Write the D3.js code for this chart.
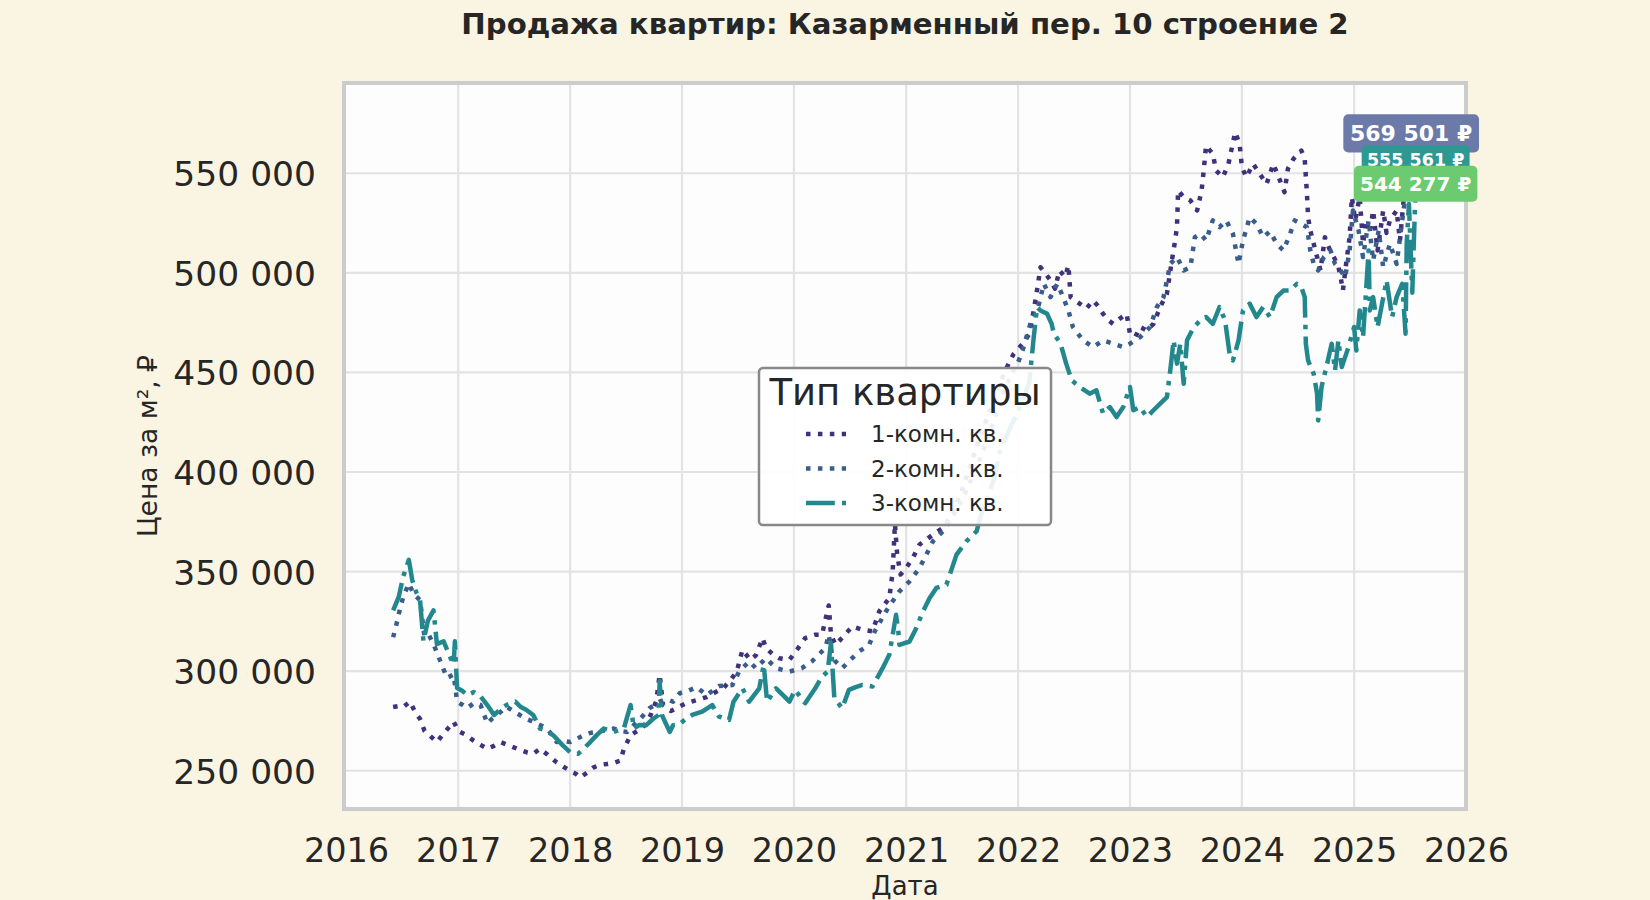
<!DOCTYPE html>
<html>
<head>
<meta charset="utf-8">
<script src="https://cdn.jsdelivr.net/npm/d3@7"></script>
<style>
  html, body { margin: 0; padding: 0; background: #faf4e2; }
  svg { display: block; font-family: "DejaVu Sans", sans-serif; }
</style>
</head>
<body>
<svg id="chart" width="1650" height="900"></svg>
<script>
// ---- data (decimal year, price per m²) ----
const seriesNames = ['1-комн. кв.', '2-комн. кв.', '3-комн. кв.'];
const lineColors = ['#41307a', '#3a5e8c', '#23888e'];
const boxColors = ['#6b7aa9', '#2e9893', '#6ccb70'];
const yearTicks = [2016, 2017, 2018, 2019, 2020, 2021, 2022, 2023, 2024, 2025, 2026];
const priceTicks = [250000, 300000, 350000, 400000, 450000, 500000, 550000];

const oneRoom = [
  [2016.42, 282000], [2016.47, 282500], [2016.51, 282000], [2016.57, 284700], [2016.62, 279000],
  [2016.66, 276000], [2016.7, 270000], [2016.75, 267500], [2016.81, 264400], [2016.86, 268000],
  [2016.92, 272000], [2016.96, 274600], [2017.0, 270000], [2017.07, 268000], [2017.14, 265000],
  [2017.2, 263000], [2017.26, 261000], [2017.32, 262500], [2017.38, 264400], [2017.44, 263000],
  [2017.49, 261900], [2017.55, 260500], [2017.61, 259300], [2017.67, 258500], [2017.73, 261000],
  [2017.8, 258000], [2017.88, 254200], [2017.94, 252000], [2018.0, 250000], [2018.05, 248500],
  [2018.09, 246600], [2018.15, 249000], [2018.21, 251700], [2018.27, 253000], [2018.33, 253400],
  [2018.39, 254000], [2018.45, 255100], [2018.48, 261000], [2018.54, 267800], [2018.6, 270000],
  [2018.66, 272500], [2018.72, 278000], [2018.77, 285000], [2018.8, 298300], [2018.83, 283000],
  [2018.9, 280000], [2018.97, 282000], [2019.04, 284000], [2019.13, 285500], [2019.22, 287000],
  [2019.3, 289500], [2019.37, 291500], [2019.44, 296000], [2019.49, 300000], [2019.54, 310700],
  [2019.61, 305700], [2019.66, 308000], [2019.72, 316600], [2019.75, 311600], [2019.81, 308500],
  [2019.87, 306500], [2019.96, 305700], [2020.03, 311000], [2020.1, 316600], [2020.19, 318300],
  [2020.25, 318300], [2020.31, 333000], [2020.33, 318300], [2020.37, 313200], [2020.45, 318000],
  [2020.52, 322500], [2020.61, 320800], [2020.7, 320000], [2020.76, 330000], [2020.85, 336700],
  [2020.88, 350000], [2020.9, 374000], [2020.92, 358500], [2020.95, 348500], [2021.0, 351800],
  [2021.06, 356900], [2021.12, 363600], [2021.18, 366000], [2021.24, 368600], [2021.33, 372000],
  [2021.4, 378000], [2021.48, 388000], [2021.56, 401000], [2021.65, 416000], [2021.75, 431000],
  [2021.85, 446000], [2021.92, 455000], [2021.96, 459200], [2022.04, 464300], [2022.1, 469300],
  [2022.14, 481100], [2022.18, 495000], [2022.2, 502800], [2022.24, 500000], [2022.29, 496200],
  [2022.33, 492000], [2022.37, 501200], [2022.42, 498000], [2022.45, 503700], [2022.47, 487800],
  [2022.55, 484500], [2022.61, 482000], [2022.67, 486100], [2022.72, 483000], [2022.76, 479400],
  [2022.81, 476000], [2022.85, 474400], [2022.91, 477000], [2022.97, 479400], [2023.0, 469400],
  [2023.05, 468000], [2023.09, 472800], [2023.15, 471100], [2023.21, 474400], [2023.27, 482800],
  [2023.33, 489500], [2023.37, 504500], [2023.4, 515000], [2023.42, 522900], [2023.43, 541300],
  [2023.48, 538000], [2023.54, 536300], [2023.6, 531300], [2023.64, 541300], [2023.66, 552000],
  [2023.68, 563900], [2023.74, 559700], [2023.77, 551300], [2023.83, 548000], [2023.88, 554700],
  [2023.94, 570600], [2023.98, 564700], [2024.0, 553000], [2024.04, 548000], [2024.1, 554700],
  [2024.16, 549700], [2024.22, 544600], [2024.28, 554700], [2024.34, 546300], [2024.38, 540500],
  [2024.41, 552200], [2024.46, 557200], [2024.53, 561400], [2024.56, 557200], [2024.58, 539600],
  [2024.59, 527900], [2024.61, 521200], [2024.64, 514600], [2024.67, 508000], [2024.7, 501200],
  [2024.74, 517900], [2024.78, 512000], [2024.82, 507900], [2024.86, 503000], [2024.88, 497800],
  [2024.9, 491100], [2024.93, 505000], [2024.96, 517900], [2024.98, 538000], [2025.01, 526300],
  [2025.05, 538000], [2025.08, 514600], [2025.11, 526300], [2025.14, 520000], [2025.17, 531300],
  [2025.21, 511200], [2025.26, 531300], [2025.29, 520000], [2025.32, 526300], [2025.38, 531300],
  [2025.41, 516200], [2025.44, 535000], [2025.47, 564700], [2025.49, 574700], [2025.51, 569501]
];

const twoRoom = [
  [2016.42, 317000], [2016.45, 323700], [2016.48, 331000], [2016.51, 337300], [2016.56, 344000],
  [2016.6, 339000], [2016.66, 335600], [2016.7, 317000], [2016.74, 318000], [2016.78, 313600],
  [2016.84, 305100], [2016.9, 296600], [2016.96, 298300], [2016.99, 284700], [2017.04, 283000],
  [2017.08, 281400], [2017.14, 284000], [2017.2, 283000], [2017.26, 273700], [2017.3, 276000],
  [2017.35, 278000], [2017.43, 282200], [2017.49, 280000], [2017.55, 278000], [2017.61, 276000],
  [2017.67, 274600], [2017.73, 273000], [2017.79, 271200], [2017.84, 268000], [2017.88, 264400],
  [2017.94, 265000], [2018.0, 264400], [2018.06, 266000], [2018.12, 267800], [2018.18, 269000],
  [2018.24, 269500], [2018.32, 270500], [2018.39, 271200], [2018.45, 270000], [2018.51, 269500],
  [2018.57, 273000], [2018.63, 276300], [2018.71, 281400], [2018.8, 284700], [2018.86, 286000],
  [2018.92, 284700], [2018.98, 289000], [2019.05, 290000], [2019.13, 292000], [2019.22, 288000],
  [2019.33, 292500], [2019.45, 293000], [2019.51, 299800], [2019.6, 304900], [2019.66, 301500],
  [2019.75, 306500], [2019.84, 301500], [2019.96, 299800], [2020.07, 301500], [2020.16, 304900],
  [2020.28, 311600], [2020.31, 318300], [2020.34, 308000], [2020.37, 304900], [2020.43, 301500],
  [2020.49, 304900], [2020.58, 309900], [2020.67, 313200], [2020.72, 320000], [2020.77, 325000],
  [2020.82, 330000], [2020.88, 335100], [2020.94, 340100], [2021.03, 345100], [2021.12, 351800],
  [2021.18, 358500], [2021.24, 365300], [2021.33, 370300], [2021.42, 378000], [2021.5, 386000],
  [2021.58, 396000], [2021.67, 408000], [2021.76, 422000], [2021.85, 437000], [2021.93, 448000],
  [2022.0, 455000], [2022.04, 461000], [2022.11, 474400], [2022.18, 482800], [2022.23, 494500],
  [2022.29, 487800], [2022.35, 494500], [2022.39, 489500], [2022.45, 481100], [2022.49, 472800],
  [2022.58, 466100], [2022.67, 462700], [2022.76, 466100], [2022.85, 464400], [2022.94, 462700],
  [2023.0, 464400], [2023.09, 467700], [2023.18, 472800], [2023.24, 482800], [2023.3, 487800],
  [2023.36, 504500], [2023.42, 507900], [2023.48, 501200], [2023.54, 502800], [2023.58, 517900],
  [2023.63, 519600], [2023.68, 516200], [2023.74, 526300], [2023.8, 522900], [2023.86, 526300],
  [2023.92, 519600], [2023.97, 504500], [2024.01, 516200], [2024.07, 527900], [2024.13, 524600],
  [2024.19, 517900], [2024.25, 520800], [2024.31, 514600], [2024.37, 511200], [2024.43, 519600],
  [2024.47, 526300], [2024.53, 524600], [2024.58, 522900], [2024.61, 511200], [2024.64, 504500],
  [2024.68, 501200], [2024.73, 507900], [2024.79, 511200], [2024.83, 504500], [2024.88, 501200],
  [2024.92, 497800], [2024.96, 511200], [2024.99, 531300], [2025.04, 521200], [2025.08, 507900],
  [2025.13, 526300], [2025.17, 506200], [2025.22, 521200], [2025.26, 502800], [2025.32, 514600],
  [2025.38, 504500], [2025.43, 526300], [2025.47, 543000], [2025.5, 556400], [2025.55, 555561]
];

const threeRoom = [
  [2016.42, 330500], [2016.47, 337300], [2016.51, 347500], [2016.56, 355900], [2016.59, 345800],
  [2016.63, 339000], [2016.66, 335600], [2016.69, 315000], [2016.73, 325400], [2016.78, 330500],
  [2016.81, 313600], [2016.87, 315000], [2016.93, 306800], [2016.96, 303400], [2016.97, 315000],
  [2016.99, 291500], [2017.04, 290000], [2017.08, 288000], [2017.14, 289500], [2017.2, 287300],
  [2017.26, 283000], [2017.32, 278000], [2017.38, 281000], [2017.43, 283000], [2017.51, 284700],
  [2017.56, 282000], [2017.61, 280500], [2017.67, 278000], [2017.73, 271200], [2017.79, 270000],
  [2017.85, 267800], [2017.93, 263000], [2018.0, 259300], [2018.07, 258500], [2018.12, 261000],
  [2018.18, 264400], [2018.24, 268000], [2018.3, 271200], [2018.39, 269500], [2018.48, 271200],
  [2018.54, 283000], [2018.57, 271200], [2018.62, 273000], [2018.68, 272900], [2018.74, 276000],
  [2018.79, 278000], [2018.8, 294900], [2018.82, 278000], [2018.89, 269500], [2018.92, 272900],
  [2018.97, 273000], [2019.04, 276300], [2019.09, 278000], [2019.18, 279700], [2019.27, 283000],
  [2019.33, 277200], [2019.42, 275500], [2019.46, 284700], [2019.54, 291400], [2019.6, 284700],
  [2019.69, 291400], [2019.73, 303200], [2019.76, 284700], [2019.84, 291400], [2019.9, 288100],
  [2019.96, 284700], [2020.01, 290600], [2020.1, 283900], [2020.19, 291400], [2020.25, 297300],
  [2020.3, 299800], [2020.33, 314100], [2020.36, 286400], [2020.43, 281400], [2020.49, 290600],
  [2020.55, 292000], [2020.61, 293100], [2020.7, 292300], [2020.79, 301500], [2020.85, 308200],
  [2020.91, 328300], [2020.93, 320000], [2020.94, 313200], [2021.03, 314900], [2021.09, 321600],
  [2021.15, 330000], [2021.21, 336700], [2021.27, 341800], [2021.36, 343400], [2021.45, 358500],
  [2021.54, 365300], [2021.63, 370300], [2021.67, 378700], [2021.73, 388000], [2021.78, 395500],
  [2021.84, 410600], [2021.93, 422300], [2021.98, 428000], [2022.04, 435700], [2022.1, 445000],
  [2022.14, 467600], [2022.17, 482800], [2022.2, 481100], [2022.26, 479400], [2022.3, 474400],
  [2022.32, 469400], [2022.38, 464400], [2022.43, 454400], [2022.48, 446000], [2022.55, 442700],
  [2022.64, 439300], [2022.7, 441000], [2022.76, 429300], [2022.82, 432600], [2022.88, 427600],
  [2022.94, 432600], [2023.0, 442700], [2023.03, 431000], [2023.09, 432600], [2023.15, 427600],
  [2023.21, 431000], [2023.27, 434300], [2023.33, 437600], [2023.36, 451000], [2023.39, 466100],
  [2023.42, 454400], [2023.45, 464400], [2023.48, 444300], [2023.51, 466100], [2023.57, 472800],
  [2023.63, 476100], [2023.68, 477800], [2023.74, 474400], [2023.8, 482800], [2023.85, 476100],
  [2023.89, 459400], [2023.92, 456000], [2023.97, 466100], [2024.01, 481100], [2024.07, 484500],
  [2024.13, 477800], [2024.19, 482800], [2024.25, 477800], [2024.31, 487800], [2024.37, 491100],
  [2024.43, 491100], [2024.49, 494500], [2024.53, 492800], [2024.56, 487800], [2024.57, 464400],
  [2024.59, 456000], [2024.64, 449300], [2024.67, 439300], [2024.68, 425900], [2024.71, 442700],
  [2024.76, 454400], [2024.8, 464400], [2024.83, 451000], [2024.86, 466100], [2024.89, 452700],
  [2024.95, 462700], [2025.0, 472800], [2025.02, 461000], [2025.05, 481100], [2025.08, 467700],
  [2025.13, 511200], [2025.14, 481100], [2025.17, 487800], [2025.21, 472800], [2025.25, 484500],
  [2025.29, 496200], [2025.34, 477800], [2025.38, 487800], [2025.43, 494500], [2025.46, 469400],
  [2025.47, 514600], [2025.49, 534600], [2025.52, 490000], [2025.55, 544277]
];

const allSeries = [oneRoom, twoRoom, threeRoom];

(function () {
  const left = 344, right = 1466, top = 83, bottom = 809;
  const LW = 4.5;
  const dashes = [
    `${LW} ${LW * 1.65}`,
    `${LW} ${LW * 1.65}`,
    `${LW * 6.4} ${LW * 1.6} ${LW} ${LW * 1.6}`
  ];

  const ru = d3.formatLocale({ decimal: ',', thousands: ' ', grouping: [3], currency: ['', ' ₽'] });
  const fmtNum = ru.format(',d');

  function toDate(t) {
    const y = Math.floor(t);
    const a = Date.UTC(y, 0, 1), b = Date.UTC(y + 1, 0, 1);
    return new Date(a + (t - y) * (b - a));
  }

  const svg = d3.select('#chart');

  const x = d3.scaleUtc()
    .domain([toDate(2016), toDate(2026)])
    .range([left + 2, right]);
  const y = d3.scaleLinear()
    .domain([230800, 595300])
    .range([bottom, top]);

  // plot background
  svg.append('rect')
    .attr('x', left).attr('y', top)
    .attr('width', right - left).attr('height', bottom - top)
    .attr('fill', '#fdfdfd');

  // grid
  const grid = svg.append('g').attr('stroke', '#e3e3e3').attr('stroke-width', 2.2);
  grid.selectAll('line.v')
    .data(yearTicks.slice(1, -1))
    .join('line')
    .attr('x1', d => x(toDate(d))).attr('x2', d => x(toDate(d)))
    .attr('y1', top).attr('y2', bottom);
  grid.selectAll('line.h')
    .data(priceTicks)
    .join('line')
    .attr('x1', left).attr('x2', right)
    .attr('y1', d => y(d)).attr('y2', d => y(d));

  // axes
  const xAxis = svg.append('g')
    .attr('transform', `translate(0,${bottom})`)
    .call(d3.axisBottom(x)
      .tickValues(yearTicks.map(toDate))
      .tickFormat(d3.utcFormat('%Y'))
      .tickSize(0)
      .tickPadding(29));
  xAxis.select('.domain').remove();
  xAxis.selectAll('text')
    .attr('font-size', 33.5).attr('fill', '#262626')
    .attr('font-family', '"DejaVu Sans", sans-serif');

  const yAxis = svg.append('g')
    .attr('transform', `translate(${left},0)`)
    .call(d3.axisLeft(y)
      .tickValues(priceTicks)
      .tickFormat(fmtNum)
      .tickSize(0)
      .tickPadding(28));
  yAxis.select('.domain').remove();
  yAxis.selectAll('text')
    .attr('font-size', 34.5).attr('fill', '#262626').attr('dy', '0.36em')
    .attr('font-family', '"DejaVu Sans", sans-serif');

  // lines
  const line = d3.line()
    .x(d => x(toDate(d[0])))
    .y(d => y(d[1]));

  svg.append('g')
    .selectAll('path')
    .data(allSeries)
    .join('path')
    .attr('d', line)
    .attr('fill', 'none')
    .attr('stroke', (d, i) => lineColors[i])
    .attr('stroke-width', LW)
    .attr('stroke-dasharray', (d, i) => dashes[i])
    .attr('stroke-linejoin', 'round');

  // frame
  svg.append('rect')
    .attr('x', left).attr('y', top)
    .attr('width', right - left).attr('height', bottom - top)
    .attr('fill', 'none')
    .attr('stroke', '#cccccc')
    .attr('stroke-width', 4);

  // title and axis labels
  svg.append('text')
    .attr('x', (left + right) / 2).attr('y', 34)
    .attr('text-anchor', 'middle')
    .attr('font-size', 29.2).attr('font-weight', 'bold').attr('fill', '#262626')
    .text('Продажа квартир: Казарменный пер. 10 строение 2');

  svg.append('text')
    .attr('x', (left + right) / 2).attr('y', 895)
    .attr('text-anchor', 'middle')
    .attr('font-size', 26).attr('fill', '#262626')
    .text('Дата');

  svg.append('text')
    .attr('transform', `translate(157,${(top + bottom) / 2}) rotate(-90)`)
    .attr('text-anchor', 'middle')
    .attr('font-size', 26.5).attr('fill', '#262626')
    .text('Цена за м², ₽');

  // legend
  const lg = svg.append('g');
  lg.append('rect')
    .attr('x', 759).attr('y', 368)
    .attr('width', 292).attr('height', 157)
    .attr('rx', 4)
    .attr('fill', '#ffffff').attr('fill-opacity', 0.9)
    .attr('stroke', '#888888').attr('stroke-width', 2.5);
  lg.append('text')
    .attr('x', 905).attr('y', 405)
    .attr('text-anchor', 'middle')
    .attr('font-size', 37).attr('fill', '#262626')
    .text('Тип квартиры');
  const rows = lg.selectAll('g.row')
    .data(seriesNames)
    .join('g')
    .attr('transform', (d, i) => `translate(0,${442 + i * 34.5})`);
  rows.append('line')
    .attr('x1', 806).attr('x2', 846)
    .attr('y1', -8).attr('y2', -8)
    .attr('stroke', (d, i) => lineColors[i])
    .attr('stroke-width', LW)
    .attr('stroke-dasharray', (d, i) => dashes[i]);
  rows.append('text')
    .attr('x', 871).attr('y', 0)
    .attr('font-size', 23).attr('fill', '#262626')
    .text(d => d);

  // last-value labels
  const labelSizes = [22, 17.5, 20];
  const labelShift = [-1.5, -2, -1];
  allSeries.forEach((s, i) => {
    const last = s[s.length - 1];
    const cx = x(toDate(last[0]));
    const cy = y(last[1]) + labelShift[i];
    const fs = labelSizes[i];
    const g = svg.append('g');
    const rect = g.append('rect');
    const t = g.append('text')
      .attr('x', cx).attr('y', cy).attr('dy', '0.36em')
      .attr('text-anchor', 'middle')
      .attr('font-size', fs).attr('font-weight', 'bold').attr('fill', '#ffffff')
      .text(fmtNum(last[1]) + ' ₽');
    const bb = t.node().getBBox();
    const pad = fs * 0.3;
    rect.attr('x', bb.x - pad).attr('y', bb.y - pad)
      .attr('width', bb.width + 2 * pad).attr('height', bb.height + 2 * pad)
      .attr('rx', 5)
      .attr('fill', boxColors[i]);
  });
})();
</script>
</body>
</html>
